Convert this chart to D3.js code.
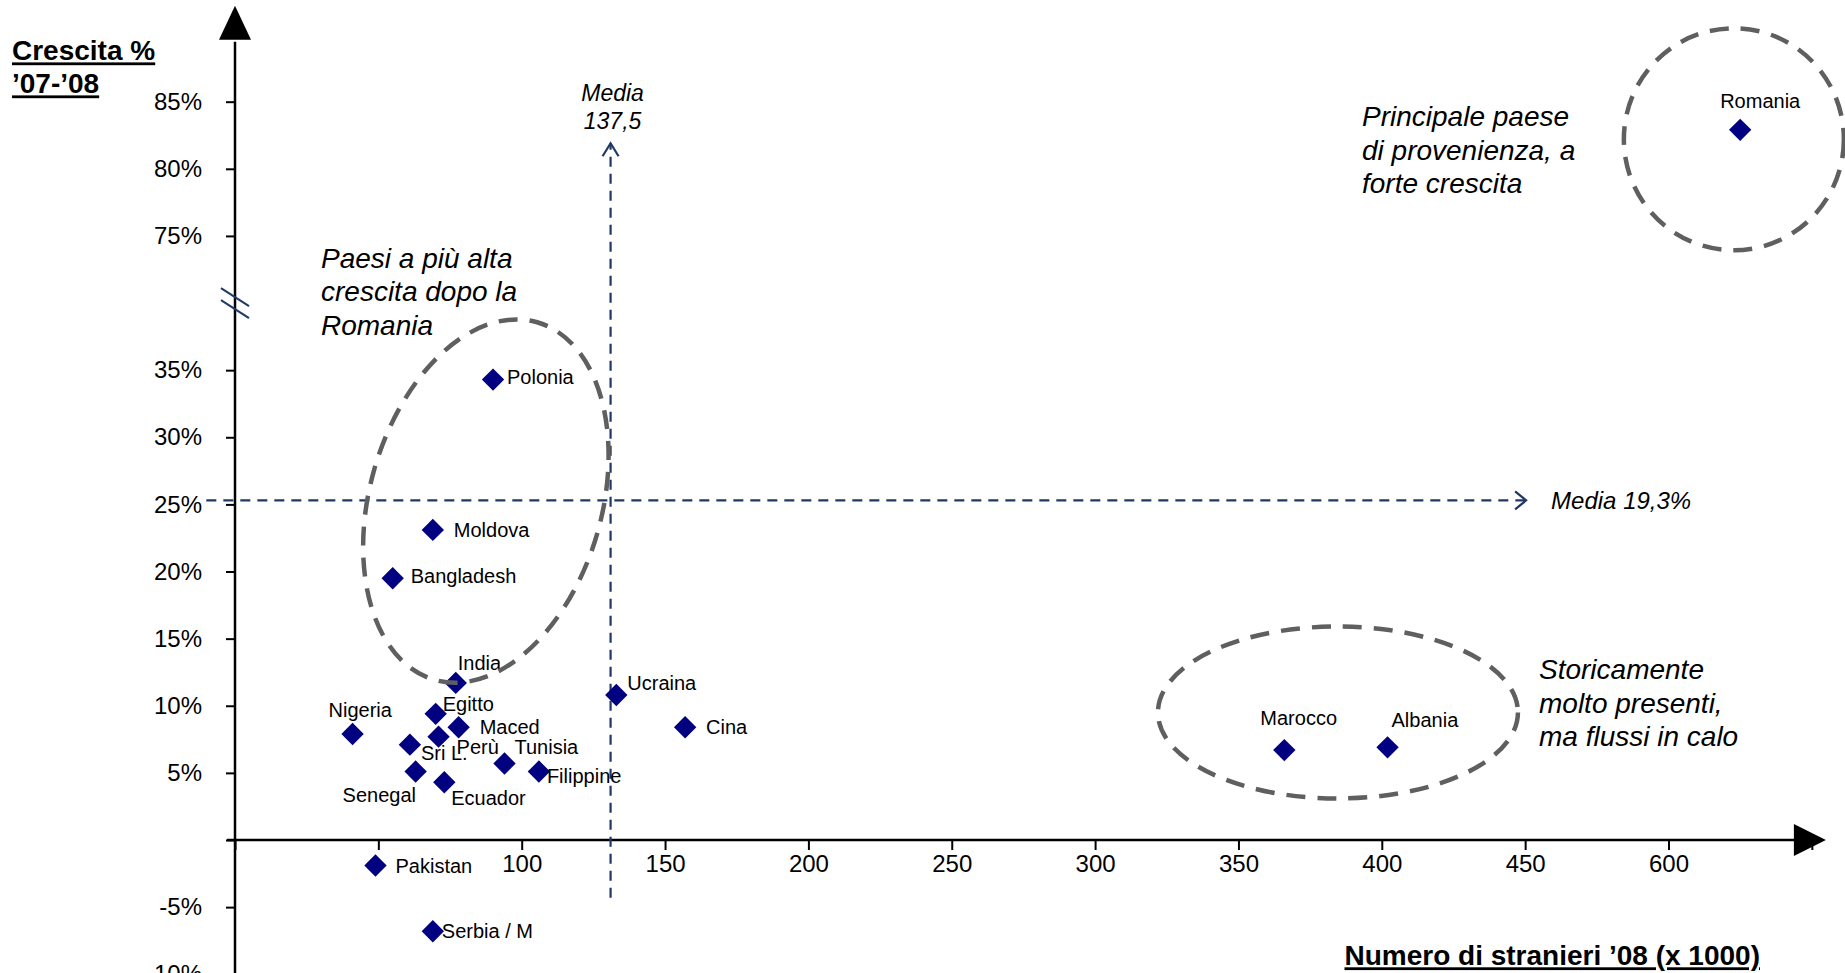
<!DOCTYPE html>
<html><head><meta charset="utf-8">
<script src="https://cdn.jsdelivr.net/npm/d3@7"></script>
<style>
html,body{margin:0;padding:0;background:#fff;overflow:hidden}
svg{display:block;font-family:"Liberation Sans",Arial,Helvetica,sans-serif}
</style></head><body>
<svg id="chart" width="1845" height="973"></svg>
<script>
// ---- data ----
const countries = ["Romania","Albania","Marocco","Cina","Ucraina","Filippine","Tunisia","Polonia","India","Maced","Ecuador","Perù","Egitto","Moldova","Serbia / M","Sri L.","Senegal","Bangladesh","Pakistan","Nigeria"];
const stranieri = [625, 402, 366, 157, 133, 106, 94, 90, 77, 78, 73, 71, 70, 69, 69, 61, 63, 55, 49, 41];
const crescita  = [82.9, 6.9, 6.7, 8.4, 10.8, 5.1, 5.7, 34.3, 11.7, 8.4, 4.3, 7.7, 9.4, 23.1, -6.8, 7.1, 5.1, 19.5, -1.9, 7.9];
const xTicks = [0, 50, 100, 150, 200, 250, 300, 350, 400, 450, 600, 650];
const xTickLabels = ["", "", "100", "150", "200", "250", "300", "350", "400", "450", "600", ""];
const yTicks = [-10, -5, 0, 5, 10, 15, 20, 25, 30, 35, 75, 80, 85];
const yTickLabels = ["-10%", "-5%", "", "5%", "10%", "15%", "20%", "25%", "30%", "35%", "75%", "80%", "85%"];
const meanX = 131;      // drawn position of "Media 137,5"
const meanY = 25.3;     // drawn position of "Media 19,3%"
const meanXLabel = ["Media", "137,5"];
const meanYLabel = "Media 19,3%";
const yTitle = ["Crescita %", "’07-’08"];
const xTitle = "Numero di stranieri ’08 (x 1000)";
const noteTopLeft = ["Paesi a più alta", "crescita dopo la", "Romania"];
const noteTopRight = ["Principale paese", "di provenienza, a", "forte crescita"];
const noteBottomRight = ["Storicamente", "molto presenti,", "ma flussi in calo"];
// group outlines: centre in data units
const groupCentersX = [87.5, 622.8, 384.7];
const groupCentersY = [25.25, 82.2, 9.5];

// ---- layout / style (not data) ----
const labelDx = [-20, 4, -24, 21, 11, 8, 10, 14, 2, 21, 7, 18, 7, 21, 9, 11, -73, 18, 20, -24];
const labelDy = [-29, -27, -32, 0, -12, 4, -16, -3, -20, 0, 16, 10, -10, 0, 0, 8, 23, -2, 0, -24];
const groupRx = [116, 110, 180];
const groupRy = [186, 111, 86];
const groupRot = [16, 0, 0];

const X0 = 235, Y0 = 840, SX = 143.35, SY = 67.12;
const navy = "#000080", lineNavy = "#1f3864", grey = "#5f5f5f";

const svg = d3.select("#chart");
const x = d3.scaleLinear().domain([0, 450, 600, 650]).range([X0, X0 + 9 * SX, X0 + 10 * SX, X0 + 11 * SX]);
const y = d3.scaleLinear().domain([-10, 35, 75, 85]).range([Y0 + 2 * SY, Y0 - 7 * SY, Y0 - 9 * SY, Y0 - 11 * SY]);

// ---- axes ----
const gx = svg.append("g").attr("transform", `translate(0,${y(0)})`)
  .call(d3.axisBottom(x).tickValues(xTicks).tickFormat((d, i) => xTickLabels[i]).tickSize(10).tickPadding(5));
gx.select(".domain").remove();
gx.selectAll(".tick line").attr("stroke", "#000").attr("stroke-width", 2);
gx.selectAll(".tick text").attr("font-size", 24).attr("fill", "#000").attr("font-family", "Liberation Sans, Arial, sans-serif");

const gy = svg.append("g").attr("transform", `translate(${x(0)},0)`)
  .call(d3.axisLeft(y).tickValues(yTicks).tickFormat((d, i) => yTickLabels[i]).tickSize(9).tickPadding(24));
gy.select(".domain").remove();
gy.selectAll(".tick line").attr("stroke", "#000").attr("stroke-width", 2);
gy.selectAll(".tick text").attr("font-size", 24).attr("fill", "#000").attr("font-family", "Liberation Sans, Arial, sans-serif");

// axis lines with arrows
const ax = svg.append("g");
ax.append("line").attr("x1", x(0) - 8).attr("x2", x(650) - 16).attr("y1", y(0)).attr("y2", y(0))
  .attr("stroke", "#000").attr("stroke-width", 2.5);
ax.append("path").attr("d", `M${x(650) - 18},${y(0) - 16} L${x(650) + 14},${y(0)} L${x(650) - 18},${y(0) + 16} Z`).attr("fill", "#000");
ax.append("line").attr("x1", x(0)).attr("x2", x(0)).attr("y1", 973).attr("y2", y(85) - 60)
  .attr("stroke", "#000").attr("stroke-width", 2.5);
ax.append("path").attr("d", `M${x(0) - 16},${y(85) - 62} L${x(0)},${y(85) - 96} L${x(0) + 16},${y(85) - 62} Z`).attr("fill", "#000");

// axis break marks
const yb = (y(35) + y(75)) / 2;
[-6, 6].forEach(o => {
  svg.append("line").attr("x1", x(0) - 14).attr("y1", yb + o - 9).attr("x2", x(0) + 14).attr("y2", yb + o + 9)
    .attr("stroke", lineNavy).attr("stroke-width", 2);
});

// ---- mean lines ----
const ml = svg.append("g").attr("stroke", lineNavy).attr("stroke-width", 2.2).attr("fill", "none");
ml.append("line").attr("x1", x(-10)).attr("x2", x(451)).attr("y1", y(meanY)).attr("y2", y(meanY)).attr("stroke-dasharray", "10,7");
ml.append("path").attr("d", `M${x(451) - 11},${y(meanY) - 9} L${x(451)},${y(meanY)} L${x(451) - 11},${y(meanY) + 9}`);
ml.append("line").attr("x1", x(meanX)).attr("x2", x(meanX)).attr("y1", y(-4.3)).attr("y2", y(81.9)).attr("stroke-dasharray", "10,7");
ml.append("path").attr("d", `M${x(meanX) - 8},${y(81.9) + 13} L${x(meanX)},${y(81.9)} L${x(meanX) + 8},${y(81.9) + 13}`);

svg.append("text").attr("x", x(451) + 25).attr("y", y(meanY)).attr("dy", "0.35em")
  .attr("font-size", 24).attr("font-style", "italic").text(meanYLabel);
svg.append("text").attr("text-anchor", "middle").attr("font-size", 23).attr("font-style", "italic")
  .selectAll("tspan").data(meanXLabel).join("tspan")
  .attr("x", x(meanX) + 2).attr("y", (d, i) => y(81.9) - 50 + i * 28).attr("dy", "0.35em").text(d => d);

// ---- points ----
const pts = countries.map((c, i) => ({ c, vx: stranieri[i], vy: crescita[i], dx: labelDx[i], dy: labelDy[i] }));
svg.append("g").selectAll("path").data(pts).join("path")
  .attr("d", d3.symbol(d3.symbolSquare, 250))
  .attr("transform", d => `translate(${x(d.vx)},${y(d.vy)}) rotate(45)`)
  .attr("fill", navy);
svg.append("g").selectAll("text").data(pts).join("text")
  .attr("x", d => x(d.vx) + d.dx).attr("y", d => y(d.vy) + d.dy).attr("dy", "0.35em")
  .attr("font-size", 20).attr("fill", "#000").text(d => d.c);

// ---- group outlines ----
svg.append("g").selectAll("ellipse").data(groupCentersX).join("ellipse")
  .attr("transform", (d, i) => `translate(${x(d)},${y(groupCentersY[i])}) rotate(${groupRot[i]})`)
  .attr("rx", (d, i) => groupRx[i]).attr("ry", (d, i) => groupRy[i])
  .attr("fill", "none").attr("stroke", grey).attr("stroke-width", 4.5).attr("stroke-dasharray", "19,12");

// ---- notes ----
function note(lines, px, py, size) {
  svg.append("text").attr("font-size", size).attr("font-style", "italic").attr("fill", "#000")
    .selectAll("tspan").data(lines).join("tspan")
    .attr("x", px).attr("y", (d, i) => py + i * 33.5).attr("dy", "0.35em").text(d => d);
}
note(noteTopLeft, 321, 258, 28);
note(noteTopRight, 1362, 116.5, 28);
note(noteBottomRight, 1539, 669.5, 28);

// ---- titles ----
svg.append("text").attr("font-size", 28).attr("font-weight", "bold").attr("text-decoration", "underline")
  .selectAll("tspan").data(yTitle).join("tspan")
  .attr("x", 12).attr("y", (d, i) => 50.6 + i * 33).attr("dy", "0.35em").text(d => d);
svg.append("text").attr("font-size", 28).attr("font-weight", "bold").attr("text-decoration", "underline")
  .attr("x", 1760).attr("y", 955.5).attr("dy", "0.35em").attr("text-anchor", "end").text(xTitle);
</script>
</body></html>
